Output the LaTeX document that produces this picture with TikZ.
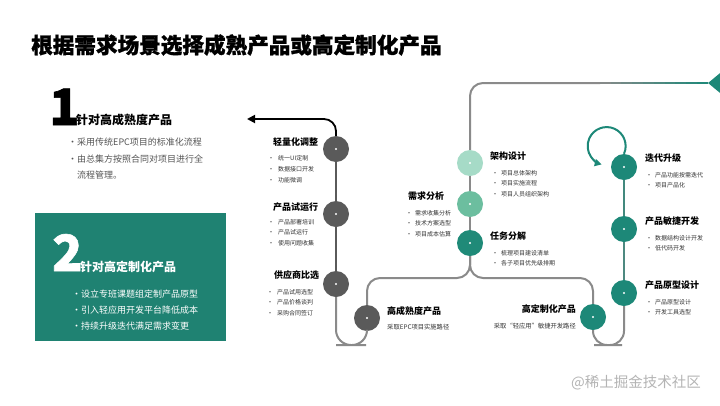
\documentclass[tikz,border=0pt]{standalone}
\usepackage{fontspec}
\setmainfont{Noto Sans CJK SC}
\newfontfamily\heavyfont{Noto Sans CJK SC}[FakeBold=1.2]
\usetikzlibrary{shapes.geometric,arrows.meta,calc}
\definecolor{tealA}{HTML}{1D8878}
\definecolor{boxteal}{HTML}{1F8272}
\definecolor{dgray}{HTML}{5A5A5A}
\definecolor{lgray}{HTML}{8A8A8A}
\definecolor{mintA}{HTML}{A6DBC7}
\definecolor{mintB}{HTML}{6CBE9F}
\definecolor{mintC}{HTML}{1F8A78}
\definecolor{txtgray}{HTML}{333333}
\definecolor{pgray}{HTML}{555555}
\definecolor{wmgray}{HTML}{B4B4B4}
\begin{document}
\begin{tikzpicture}[x=1pt,y=-1pt,
  dot/.style={circle, minimum size=26pt, inner sep=0pt},
  ttl/.style={font=\fontsize{9}{9}\selectfont\bfseries, inner sep=0pt, text=black},
  sml/.style={font=\fontsize{6}{6}\selectfont, inner sep=0pt, text=txtgray, anchor=west},
  subt/.style={font=\fontsize{6.3}{6.3}\selectfont, inner sep=0pt, text=txtgray},
  conn/.style={line width=2pt, lgray},
  pbul/.style={font=\fontsize{9}{9}\selectfont, inner sep=0pt, anchor=west},
  bigno/.style={font=\heavyfont\fontsize{50}{50}\selectfont\bfseries, inner sep=0pt, anchor=base west},
  ptitle/.style={font=\fontsize{12}{12}\selectfont\bfseries, inner sep=0pt, anchor=base west},
]
\useasboundingbox (0,0) rectangle (720,405);
\fill[white] (0,0) rectangle (720,405);

% title
\node[anchor=west, inner sep=0pt, font=\heavyfont\fontsize{21.6}{21.6}\selectfont\bfseries] (title) at (31,45) {根据需求场景选择成熟产品或高定制化产品};

% panel 1
\node[bigno] (n1) at (49,125) {1};
\node[ptitle] (h1) at (76,124) {针对高成熟度产品};
\node[pbul, text=pgray] (p1a) at (68,142) {\makebox[9pt][l]{•}采用传统EPC项目的标准化流程};
\node[pbul, text=pgray] (p1b) at (68,159) {\makebox[9pt][l]{•}由总集方按照合同对项目进行全};
\node[pbul, text=pgray] (p1c) at (77,175) {流程管理。};

% panel 2
\node[fill=boxteal, minimum width=191pt, minimum height=128pt, anchor=north west, inner sep=0pt] (box) at (35,213) {};
\node[bigno, text=white] (n2) at (52,271) {2};
\node[ptitle, text=white] (h2) at (80,271) {针对高定制化产品};
\node[pbul, text=white] (p2a) at (72,294) {\makebox[9pt][l]{•}设立专班课题组定制产品原型};
\node[pbul, text=white] (p2b) at (72,310) {\makebox[9pt][l]{•}引入轻应用开发平台降低成本};
\node[pbul, text=white] (p2c) at (72,326) {\makebox[9pt][l]{•}持续升级迭代满足需求变更};

% circles
\node[dot, fill=dgray] (c1) at (336,149) {};
\node[dot, fill=dgray] (c2) at (336,214) {};
\node[dot, fill=dgray] (c3) at (336,284) {};
\node[dot, fill=dgray] (c4) at (367,318) {};
\node[dot, fill=mintA] (c5) at (470,163) {};
\node[dot, fill=mintB] (c6) at (470,204) {};
\node[dot, fill=mintC] (c7) at (470,243) {};
\node[dot, fill=tealA] (c8) at (593,317) {};
\node[dot, fill=tealA] (c9) at (624,293) {};
\node[dot, fill=tealA] (c10) at (624,229) {};
\node[dot, fill=tealA] (c11) at (624,167) {};
\foreach \c in {c1,c2,c3,c4,c5,c6,c7,c8,c9,c10,c11}
  \fill[white] (\c) circle (1.1pt);

% diamond at right edge
\node[diamond, fill=tealA, minimum width=24pt, minimum height=20pt, inner sep=0pt] (dia) at (720,83) {};

% coordinates
\coordinate (arrowend) at (247,119);
\coordinate (u1) at (351,345);
\coordinate (hL) at (420,278);
\coordinate (hR) at (530,278);
\coordinate (u2) at (608,345);
\coordinate (g0) at (600,83);

% connectors
\draw[line width=1.8pt, black, -{Triangle[length=8pt,width=8pt]}, rounded corners=12pt] (c1.north) |- (arrowend);
\draw[line width=2pt, dgray] (c1.south) -- (c2.north);
\draw[line width=2pt, dgray] (c2.south) -- (c3.north);
\draw[conn, rounded corners=15pt] (c3.south) |- (u1) -| (c4.south);
\draw[conn, rounded corners=13pt] (c7.south) |- (hL) -| (c4.north);
\draw[conn, rounded corners=13pt] (c7.south) |- (hR) -| (c8.north);
\draw[conn, rounded corners=14pt] (c8.south) |- (u2) -| (c9.south);
\draw[line width=2pt, tealA!55!lgray] (c9.north) -- (c10.south);
\draw[line width=2pt, tealA!65!lgray] (c10.north) -- (c11.south);
\draw[conn] (c6.south) -- (c7.north);
\draw[conn] (c5.south) -- (c6.north);
\draw[conn, rounded corners=13pt] (c5.north) |- (g0);
\foreach \k in {0,...,9}{
  \pgfmathtruncatemacro\p{\k*10+5}
  \draw[line width=2pt, color=tealA!\p!lgray] ($(g0)+(\k*10.8-0.3,0)$) -- ($(g0)+(\k*10.8+10.8,0)$);
}
\draw[line width=2pt, tealA, -{Triangle[length=7pt,width=7pt]}] (c11.north) arc[start angle=-24, end angle=255, radius=19pt];

% labels left column
\node[ttl, anchor=west] (t1) at (273,142) {轻量化调整};
\foreach \t [count=\i from 0] in {统一UI定制,数据接口开发,功能微调}
  \node[sml] (b1-\i) at (268,158+\i*11) {\makebox[10pt][l]{•}\t};
\node[ttl, anchor=west] (t2) at (273,207) {产品试运行};
\foreach \t [count=\i from 0] in {产品部署培训,产品试运行,使用问题收集}
  \node[sml] (b2-\i) at (268,222+\i*10.5) {\makebox[10pt][l]{•}\t};
\node[ttl, anchor=west] (t3) at (274,275) {供应商比选};
\foreach \t [count=\i from 0] in {产品试用选型,产品价格谈判,采购合同签订}
  \node[sml] (b3-\i) at (267,292+\i*10.5) {\makebox[10pt][l]{•}\t};
\node[ttl, anchor=west] (t4) at (387,311) {高成熟度产品};
\node[subt, anchor=west] (s4) at (387,327) {采取EPC项目实施路径};

% middle column
\node[ttl, anchor=west] (t5) at (490,156) {架构设计};
\foreach \t [count=\i from 0] in {项目总体架构,项目实施流程,项目人员组织架构}
  \node[sml] (b5-\i) at (492,173+\i*10.5) {\makebox[9pt][l]{•}\t};
\node[ttl, anchor=west] (t6) at (408,196) {需求分析};
\foreach \t [count=\i from 0] in {需求收集分析,技术方案选型,项目成本估算}
  \node[sml] (b6-\i) at (406,213+\i*10.5) {\makebox[9pt][l]{•}\t};
\node[ttl, anchor=west] (t7) at (490,236) {任务分解};
\foreach \t [count=\i from 0] in {梳理项目建设清单,各子项目优先级排期}
  \node[sml] (b7-\i) at (492,253+\i*10.5) {\makebox[9pt][l]{•}\t};
\node[ttl, anchor=east] (t8) at (576,309) {高定制化产品};
\node[subt, anchor=east] (s8) at (576,326) {采取“轻应用”敏捷开发路径};

% right column
\node[ttl, anchor=west] (t11) at (645,158) {迭代升级};
\foreach \t [count=\i from 0] in {产品功能按需迭代,项目产品化}
  \node[sml] (b11-\i) at (646,175+\i*10.5) {\makebox[9pt][l]{•}\t};
\node[ttl, anchor=west] (t10) at (645,221) {产品敏捷开发};
\foreach \t [count=\i from 0] in {数据结构设计开发,低代码开发}
  \node[sml] (b10-\i) at (646,238+\i*10.5) {\makebox[9pt][l]{•}\t};
\node[ttl, anchor=west] (t9) at (645,285) {产品原型设计};
\foreach \t [count=\i from 0] in {产品原型设计,开发工具选型}
  \node[sml] (b9-\i) at (646,302+\i*10.5) {\makebox[9pt][l]{•}\t};

% watermark
\node[anchor=west, inner sep=0pt, font=\fontsize{14.5}{14.5}\selectfont, text=wmgray] (wm) at (571,383) {@稀土掘金技术社区};
\end{tikzpicture}
\end{document}
